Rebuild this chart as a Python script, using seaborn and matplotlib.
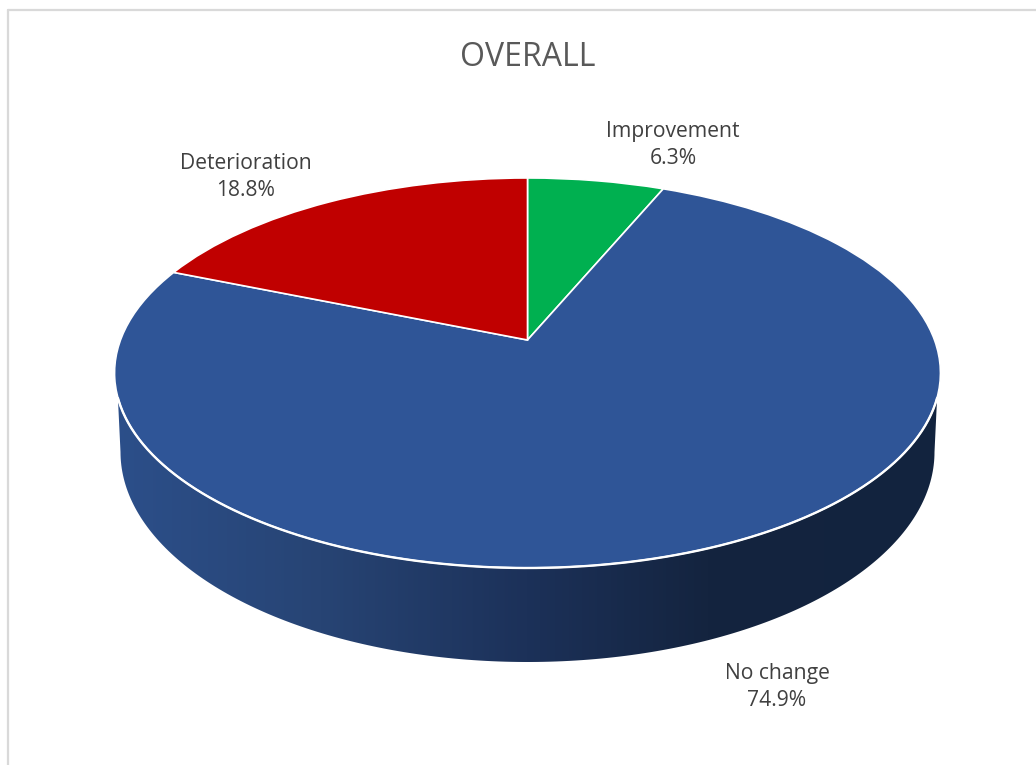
import numpy as np
import matplotlib
matplotlib.use("Agg")
import matplotlib.pyplot as plt
from matplotlib.colors import LinearSegmentedColormap
from matplotlib.lines import Line2D
from matplotlib.patches import Polygon
from matplotlib.transforms import Transform
import seaborn as sns

title = "OVERALL"
categories = ["Improvement", "No change", "Deterioration"]
shares = [6.3, 74.9, 18.8]
slice_colors = ["#00B050", "#2F5597", "#C00000"]

sns.set_theme(style="white")
plt.rcParams["font.family"] = ["Open Sans", "DejaVu Sans"]
palette = sns.color_palette(slice_colors)

W, H = 1036, 765
APEX_X, APEX_Y = 527.5, 340
TILT, SCALE_X, SCALE_Y = 0.169, 407.0, 189.4


class TiltProjection(Transform):
    """Perspective view of a flat unit-circle pie, into pixel coordinates."""
    input_dims = output_dims = 2
    is_separable = False
    has_inverse = False

    def transform_non_affine(self, xy):
        xy = np.asarray(xy, dtype=float)
        d = 1 + TILT * xy[:, 1]
        return np.column_stack([APEX_X + SCALE_X * xy[:, 0] / d,
                                APEX_Y - SCALE_Y * xy[:, 1] / d])


fig = plt.figure(figsize=(W / 100, H / 100), dpi=100, facecolor="white")
ax = fig.add_axes([0, 0, 1, 1])

wedges, _ = ax.pie(shares, colors=palette, startangle=90, counterclock=False,
                   wedgeprops=dict(edgecolor="white", linewidth=1.2, zorder=3))
proj = TiltProjection()
for w in wedges:
    w.set_transform(proj + ax.transData)
    w.set_clip_on(False)

ax.set_aspect("auto")
ax.set_xlim(0, W)
ax.set_ylim(H, 0)
ax.axis("off")

# pie wall: band between the rim of the top face and a lower ellipse
cx = APEX_X
t0 = np.arcsin((398 - 373) / 195)
t_top = np.linspace(t0, np.pi - t0, 200)
top_arc = np.column_stack([cx + 413 * np.cos(t_top), 373 + 195 * np.sin(t_top)])
t_low = np.linspace(np.pi, 0, 200)
low_arc = np.column_stack([cx + 407 * np.cos(t_low), 452 + 210 * np.sin(t_low)])
wall = Polygon(np.vstack([top_arc, low_arc]), closed=True, transform=ax.transData,
               facecolor="none", edgecolor="none")
ax.add_patch(wall)

wall_cmap = LinearSegmentedColormap.from_list(
    "wall",
    [(0.0, "#2C4F8A"), (0.25, "#274474"), (0.5, "#1C3159"),
     (0.72, "#14243F"), (1.0, "#12233E")])
img = ax.imshow(np.linspace(0, 1, 512)[None, :], cmap=wall_cmap, aspect="auto",
                extent=(114, 940, 680, 390), zorder=1, interpolation="bilinear")
img.set_clip_path(wall)
ax.set_xlim(0, W)
ax.set_ylim(H, 0)

# white rim along the front of the top face
ax.plot(top_arc[:, 0], top_arc[:, 1], color="white", lw=1.7, zorder=4,
        solid_capstyle="round")

# chart frame
ax.add_line(Line2D([8, 8], [10, H], color="#D9D9D9", lw=1.6, zorder=0))
ax.add_line(Line2D([8, W], [10, 10], color="#D9D9D9", lw=1.6, zorder=0))

# text
ax.text(528, 57, title, ha="center", va="center", fontsize=23, color="#595959")
label_pos = [(673, 145), (777, 687), (246, 177)]
for name, val, (x, y) in zip(categories, shares, label_pos):
    ax.text(x, y, f"{name}\n{val}%", ha="center", va="center",
            fontsize=15.2, color="#404040", linespacing=1.42)

fig.savefig("out.png", dpi=100, facecolor="white")
